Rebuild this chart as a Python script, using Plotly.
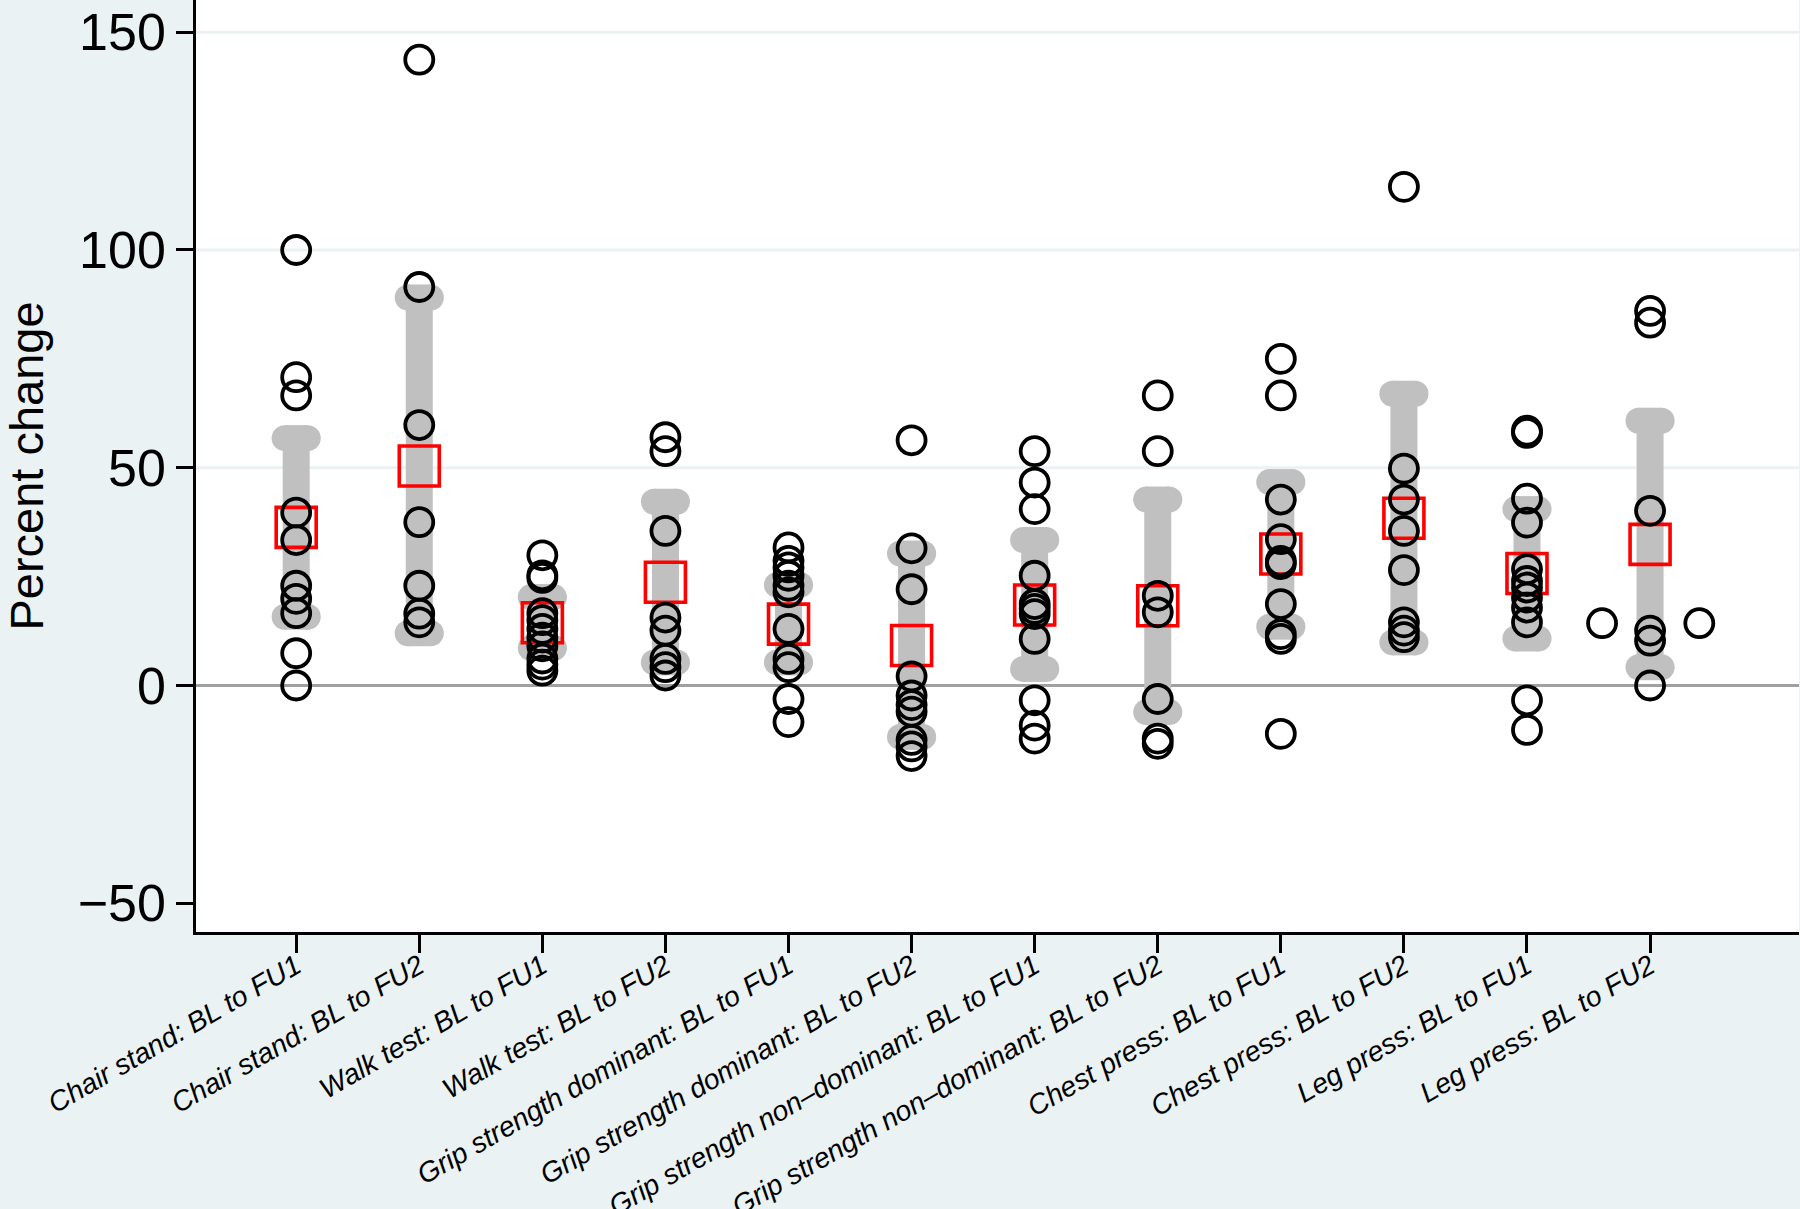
import plotly.graph_objects as go

categories = [
    "Chair stand: BL to FU1", "Chair stand: BL to FU2",
    "Walk test: BL to FU1", "Walk test: BL to FU2",
    "Grip strength dominant: BL to FU1", "Grip strength dominant: BL to FU2",
    "Grip strength non\u2013dominant: BL to FU1", "Grip strength non\u2013dominant: BL to FU2",
    "Chest press: BL to FU1", "Chest press: BL to FU2",
    "Leg press: BL to FU1", "Leg press: BL to FU2",
]

medians = [36.3, 50.4, 14.4, 23.7, 14.1, 9.2, 18.5, 18.3, 30.2, 38.4, 25.7, 32.4]
iqr_lo = [15.8, 12.0, 8.6, 5.3, 5.3, -11.8, 3.8, -6.1, 13.5, 9.9, 10.8, 4.2]
iqr_hi = [56.8, 89.1, 20.3, 42.2, 23.1, 30.3, 33.4, 42.7, 46.7, 67.0, 40.5, 60.8]

points = [
    [100, 70.8, 66.6, 39.7, 33.4, 22.9, 19.9, 16.6, 7.4, 0],
    [143.7, 91.5, 59.8, 37.5, 22.9, 16.5, 14.5],
    [29.9, 25.3, 24.7, 16.6, 15.0, 13.0, 11.0, 9.0, 6.2, 4.8, 3.4],
    [57.0, 53.8, 35.5, 15.6, 12.6, 6.1, 4.2, 2.3],
    [31.7, 28.6, 27.1, 25.2, 22.9, 21.4, 13.0, 6.1, 4.2, -3.1, -8.4],
    [56.3, 31.5, 22.1, 2.1, -2.3, -4.5, -6.0, -12.5, -14.0, -16.2],
    [53.8, 46.6, 40.5, 25.2, 18.7, 17.6, 16.4, 10.7, -3.4, -9.2, -12.2],
    [66.6, 53.8, 20.6, 16.8, -3.1, -12.2, -13.4],
    [75.0, 66.6, 42.7, 33.6, 28.6, 27.9, 18.7, 11.8, 10.7, -11.1],
    [114.5, 49.8, 42.7, 35.5, 26.5, 14.5, 12.6, 11.1],
    [58.5, 58.0, 42.9, 37.4, 26.7, 24.0, 22.5, 20.2, 17.9, 14.5, -3.4, -10.2],
    [86.0, 83.3, 40.1, 12.6, 10.3, 0],
]

# two displaced observations beside the last category
side_cat = [12, 12]
side_offset = [-0.39, 0.40]
side_vals = [14.3, 14.3]

y_ticks = [-50, 0, 50, 100, 150]
y_ticktext = ["\u221250", "0", "50", "100", "150"]
grid_vals = [50, 100, 150]

BG = "#EAF2F3"
GRAY = "#C0C0C0"
CAP_HALF = 0.094

xs = list(range(1, len(categories) + 1))

fig = go.Figure()

# IQR bodies
bx, by = [], []
for x, lo, hi in zip(xs, iqr_lo, iqr_hi):
    bx += [x, x, None]
    by += [lo, hi, None]
fig.add_trace(go.Scatter(x=bx, y=by, mode="lines",
                         line=dict(color=GRAY, width=27),
                         hoverinfo="skip", showlegend=False))

# rounded caps
cx, cy = [], []
for x, lo, hi in zip(xs, iqr_lo, iqr_hi):
    for v in (lo, hi):
        cx += [x - CAP_HALF, x + CAP_HALF, None]
        cy += [v, v, None]
fig.add_trace(go.Scatter(x=cx, y=cy, mode="lines+markers",
                         line=dict(color=GRAY, width=26),
                         marker=dict(color=GRAY, size=26, line=dict(width=0)),
                         hoverinfo="skip", showlegend=False))

# medians
fig.add_trace(go.Scatter(x=xs, y=medians, mode="markers",
                         marker=dict(symbol="square-open", size=40, color="#FF0000",
                                     line=dict(width=3.6, color="#FF0000")),
                         showlegend=False))

# individual observations
px, py = [], []
for x, vals in zip(xs, points):
    px += [x] * len(vals)
    py += vals
for c, off, v in zip(side_cat, side_offset, side_vals):
    px.append(c + off)
    py.append(v)
fig.add_trace(go.Scatter(x=px, y=py, mode="markers",
                         marker=dict(symbol="circle-open", size=28, color="black",
                                     line=dict(width=3.8, color="black")),
                         showlegend=False))

shapes = []
for g in grid_vals:
    shapes.append(dict(type="line", xref="paper", x0=0, x1=1, yref="y", y0=g, y1=g,
                       line=dict(color=BG, width=3), layer="below"))

fig.update_layout(
    width=1800, height=1209,
    margin=dict(l=196, r=1, t=0, b=277),
    paper_bgcolor=BG, plot_bgcolor="white",
    shapes=shapes,
    font=dict(family="Liberation Sans, Arial, sans-serif", color="black"),
    xaxis=dict(
        range=[0.186, 13.21], tickmode="array", tickvals=xs, ticktext=categories,
        tickangle=-30, ticks="outside", ticklen=18, tickwidth=2.5, tickcolor="black",
        tickfont=dict(family="Liberation Sans, Arial, sans-serif", size=28.2, style="italic"),
        ticklabelstandoff=-14,
        showline=True, linecolor="black", linewidth=2.5, showgrid=False, zeroline=False,
        automargin=False,
    ),
    yaxis=dict(
        range=[-56.6, 157.4], tickmode="array", tickvals=y_ticks, ticktext=y_ticktext,
        ticks="outside", ticklen=17, tickwidth=2.5, tickcolor="black",
        tickfont=dict(family="Liberation Sans, Arial, sans-serif", size=52),
        showline=True, linecolor="black", linewidth=2.5, showgrid=False,
        zeroline=True, zerolinecolor="#A0A0A0", zerolinewidth=3,
        automargin=False, ticklabeloverflow="allow",
        title=dict(text="Percent change", standoff=38,
                   font=dict(family="Liberation Sans, Arial, sans-serif", size=47)),
    ),
)

fig.write_html("out.html", config={"displayModeBar": False},
               post_script="document.body.style.margin='0';document.body.style.overflow='hidden';")
